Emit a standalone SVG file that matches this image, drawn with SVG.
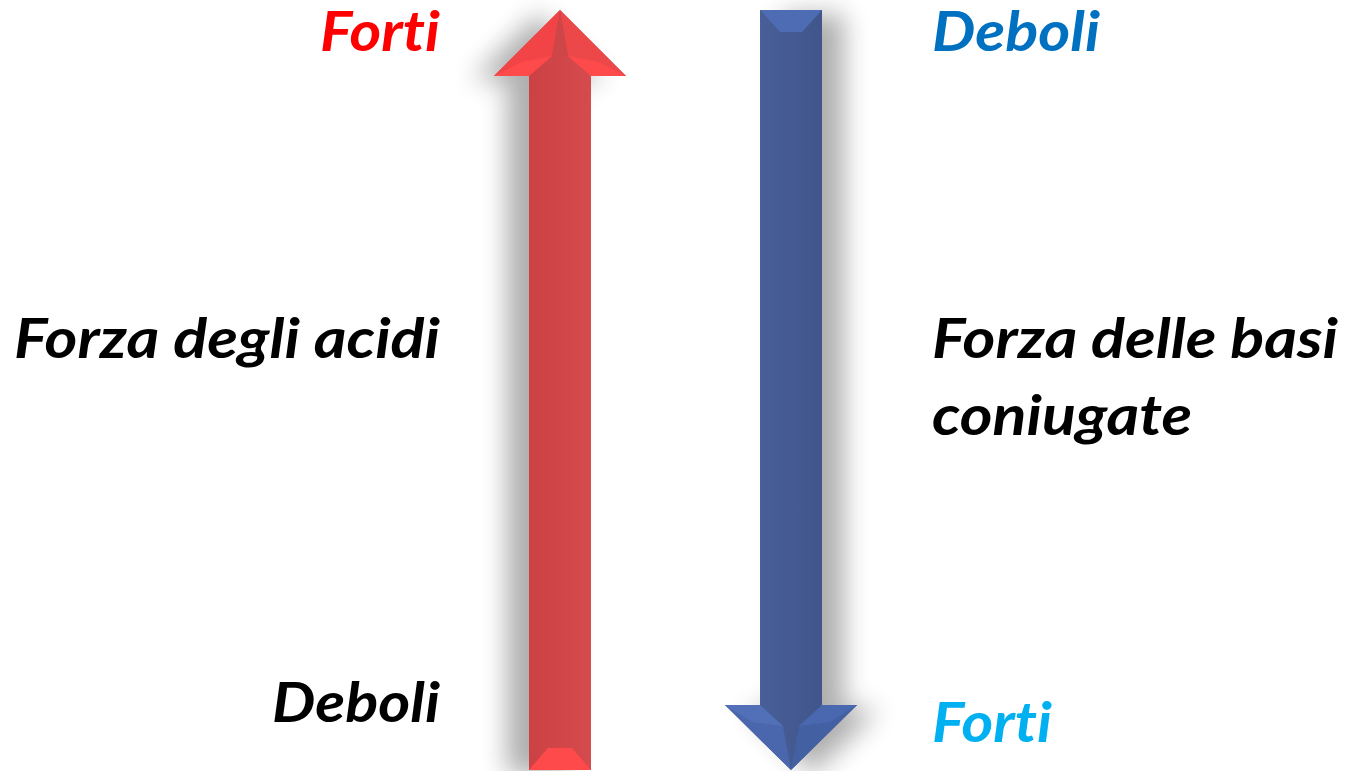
<svg xmlns="http://www.w3.org/2000/svg" width="1349" height="771" viewBox="0 0 1349 771">
<defs>
<style>
.lbl{font-family:Lato,"Open Sans","Liberation Sans",sans-serif;font-weight:bold;font-style:italic;font-size:56px;font-variant-ligatures:none}
</style>
<linearGradient id="gRed" x1="0" y1="0" x2="1" y2="0">
<stop offset="0" stop-color="#C63D3F"/>
<stop offset="1" stop-color="#DB5052"/>
</linearGradient>
<linearGradient id="gBlue" x1="0" y1="0" x2="1" y2="0">
<stop offset="0" stop-color="#4C64A0"/>
<stop offset="1" stop-color="#3C5082"/>
</linearGradient>
<filter id="shL" x="-60%" y="-10%" width="220%" height="120%">
<feGaussianBlur in="SourceAlpha" stdDeviation="13"/>
<feOffset dx="-22" dy="4" result="b"/>
<feComponentTransfer in="b" result="s"><feFuncA type="linear" slope="0.32"/></feComponentTransfer>
<feFlood flood-color="#000"/>
<feComposite in2="s" operator="in"/>
</filter>
<filter id="shR" x="-60%" y="-10%" width="220%" height="120%">
<feGaussianBlur in="SourceAlpha" stdDeviation="13"/>
<feOffset dx="22" dy="4" result="b"/>
<feComponentTransfer in="b" result="s"><feFuncA type="linear" slope="0.32"/></feComponentTransfer>
<feFlood flood-color="#000"/>
<feComposite in2="s" operator="in"/>
</filter>
</defs>
<rect width="1349" height="771" fill="#fff"/>
<g id="connectors">
<g id="arrow-acids">
<polygon points="560,10 626,76 591,76 591,770 529,770 529,76 494,76" fill="#000" filter="url(#shL)"/>
<polygon points="560,10 626,76 591,76 591,770 529,770 529,76 494,76" fill="url(#gRed)"/>
<polygon points="560,10 494,76 529,76 552,56" fill="#F24446"/>
<polygon points="560,10 626,76 591,76 568,56" fill="#EC484A"/>
<polygon points="560,10 552,56 568,56" fill="#CF4648"/>
<polygon points="494,76 529,76 552,56 522,62" fill="#FF4A4C"/>
<polygon points="626,76 591,76 568,56 598,62" fill="#FF4A4C"/>
<polygon points="529,770 591,770 572,748 548,748" fill="#FF4A4C"/>
</g>
<g id="arrow-bases">
<polygon points="760,10 822,10 822,705 857,705 791,770 725,705 760,705" fill="#000" filter="url(#shR)"/>
<polygon points="760,10 822,10 822,705 857,705 791,770 725,705 760,705" fill="url(#gBlue)"/>
<polygon points="760,10 822,10 802,32 780,32" fill="#4E6CB4"/>
<polygon points="725,705 760,705 783,726 791,770" fill="#4A66AC"/>
<polygon points="857,705 822,705 799,726 791,770" fill="#4260A2"/>
<polygon points="725,705 760,705 783,726 752,722" fill="#5270B8"/>
<polygon points="857,705 822,705 799,726 830,722" fill="#4A68B0"/>
</g>
</g>
<g id="label-forti-top"><text class="lbl" x="440" y="51" text-anchor="end" fill="#FF0000" textLength="120" lengthAdjust="spacingAndGlyphs">Forti</text></g>
<g id="label-deboli-top"><text class="lbl" x="932" y="51" fill="#0070C0" textLength="168" lengthAdjust="spacingAndGlyphs">Deboli</text></g>
<g id="label-forza-acidi"><text class="lbl" x="440" y="358" text-anchor="end" fill="#000" textLength="426" lengthAdjust="spacingAndGlyphs">Forza degli acidi</text></g>
<g id="label-forza-basi"><text class="lbl" x="932" y="358" fill="#000" textLength="406" lengthAdjust="spacingAndGlyphs">Forza delle basi</text><text class="lbl" x="932" y="435" fill="#000" textLength="260" lengthAdjust="spacingAndGlyphs">coniugate</text></g>
<g id="label-deboli-bottom"><text class="lbl" x="440" y="722" text-anchor="end" fill="#000" textLength="168" lengthAdjust="spacingAndGlyphs">Deboli</text></g>
<g id="label-forti-bottom"><text class="lbl" x="932" y="742" fill="#00B0F0" textLength="120" lengthAdjust="spacingAndGlyphs">Forti</text></g>
</svg>
